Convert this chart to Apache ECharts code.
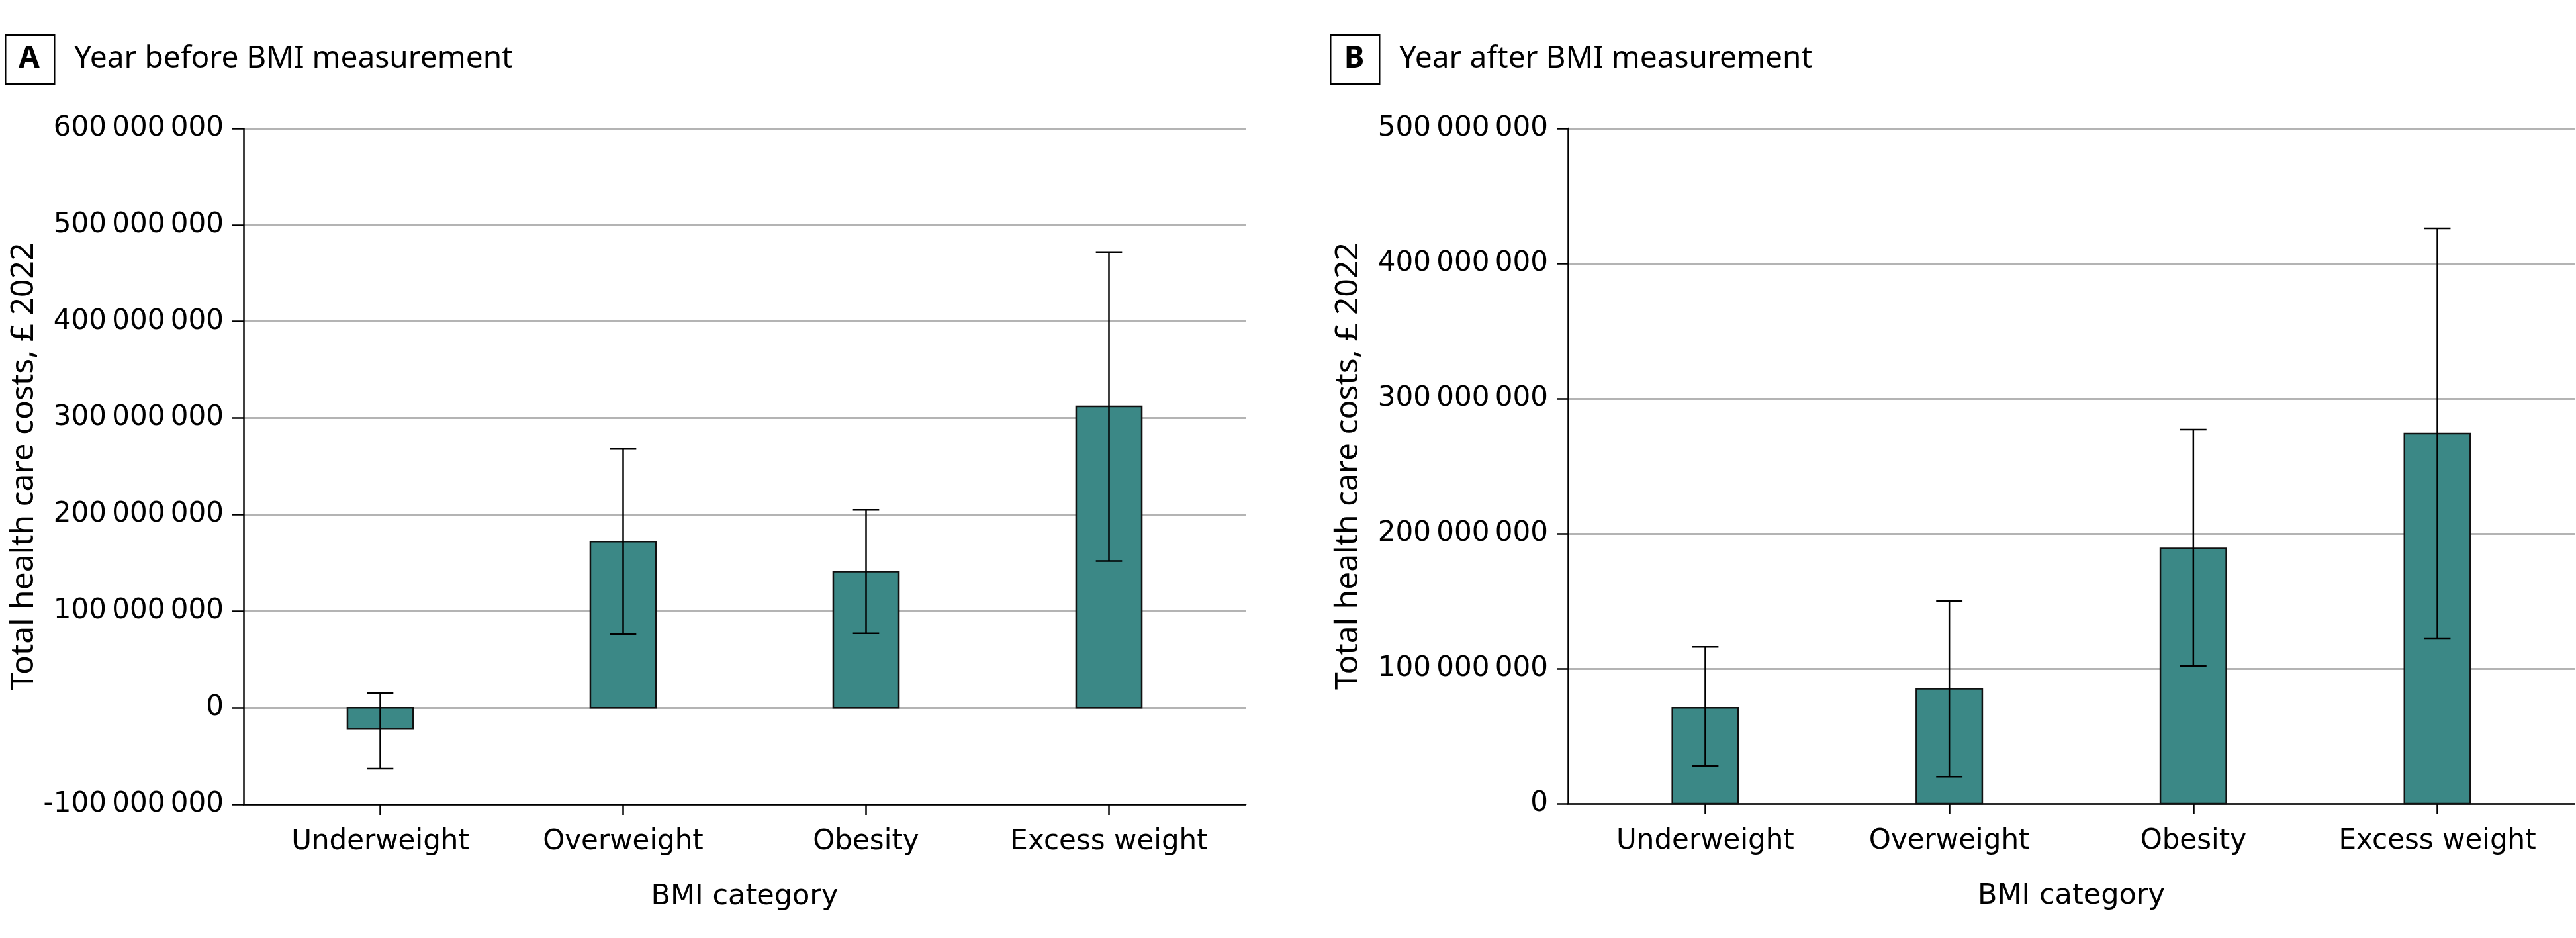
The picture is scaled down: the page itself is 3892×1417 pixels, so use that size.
<!DOCTYPE html>
<html lang="en">
<head>
    <meta charset="UTF-8">
    <title>Total health care costs by BMI category</title>
    <script src="https://cdn.jsdelivr.net/npm/echarts@6/dist/echarts.min.js"></script>
    <style>
        html, body { margin: 0; padding: 0; background: #fff; }
    </style>
</head>
<body>

<div id="main" style="width:3892px;height:1417px"></div>
<script type="text/javascript">

    // categories + values (GBP, 2022)
    var categories = ['Underweight', 'Overweight', 'Obesity', 'Excess weight'];

    var beforeCost = [-22000000, 172000000, 141000000, 312000000];
    var beforeLow  = [-63000000, 76000000, 77000000, 152000000];
    var beforeHigh = [15000000, 268000000, 205000000, 472000000];

    var afterCost = [71000000, 85000000, 189000000, 274000000];
    var afterLow  = [28000000, 20000000, 102000000, 122000000];
    var afterHigh = [116000000, 150000000, 277000000, 426000000];

    var yTicksA = [-100000000, 0, 100000000, 200000000, 300000000, 400000000, 500000000, 600000000];
    var yTicksB = [0, 100000000, 200000000, 300000000, 400000000, 500000000];

    var barColor = '#3b8886';
    var gridColor = '#b4b4b4';
    var tickFont = 'DejaVu Sans';
    var titleFont = 'Noto Sans';

    function fmt(v) {
        var neg = v < 0;
        var s = String(Math.abs(v));
        var out = '';
        while (s.length > 3) {
            out = '\u2009' + s.slice(-3) + out;
            s = s.slice(0, -3);
        }
        out = s + out;
        return (neg ? '-' : '') + out;
    }

    function rows(cost, low, high) {
        var r = [];
        for (var i = 0; i < cost.length; i++) {
            r.push([i, cost[i], low[i], high[i]]);
        }
        return r;
    }

    function renderBar(params, api) {
        var x = api.value(0);
        var top = api.coord([x, api.value(1)]);
        var base = api.coord([x, 0]);
        var w = api.size([0.27, 0])[0];
        var lo = api.coord([x, api.value(2)]);
        var hi = api.coord([x, api.value(3)]);
        var cap = api.size([0.108, 0])[0] / 2;
        var y0 = Math.min(top[1], base[1]);
        var h = Math.abs(top[1] - base[1]);
        var line = { stroke: '#000', lineWidth: 2.5 };
        return {
            type: 'group',
            children: [
                { type: 'rect', shape: { x: top[0] - w / 2, y: y0, width: w, height: h },
                  style: { fill: barColor, stroke: '#111', lineWidth: 2.5 } },
                { type: 'line', shape: { x1: top[0], y1: lo[1], x2: top[0], y2: hi[1] }, style: line },
                { type: 'line', shape: { x1: top[0] - cap, y1: hi[1], x2: top[0] + cap, y2: hi[1] }, style: line },
                { type: 'line', shape: { x1: top[0] - cap, y1: lo[1], x2: top[0] + cap, y2: lo[1] }, style: line }
            ]
        };
    }

    function xAxisFor(idx) {
        return {
            type: 'value',
            gridIndex: idx,
            min: -0.5627,
            max: 3.5627,
            name: 'BMI category',
            nameLocation: 'middle',
            nameGap: 118,
            nameTextStyle: { fontFamily: tickFont, fontSize: 43, color: '#000' },
            axisLine: { onZero: false, lineStyle: { color: '#000', width: 2.5 } },
            axisTick: { show: true, length: 16, customValues: [0, 1, 2, 3], lineStyle: { color: '#000', width: 2.5 } },
            axisLabel: {
                customValues: [0, 1, 2, 3],
                formatter: function (v) { return categories[Math.round(v)]; },
                fontFamily: tickFont, fontSize: 42, color: '#000', margin: 36
            },
            splitLine: { show: false }
        };
    }

    function yAxisFor(idx, ticks) {
        return {
            type: 'value',
            gridIndex: idx,
            min: ticks[0],
            max: ticks[ticks.length - 1],
            interval: 100000000,
            name: 'Total health care costs, \u00a3 2022',
            nameLocation: 'middle',
            nameRotate: 90,
            nameGap: 308,
            nameTextStyle: { fontFamily: titleFont, fontSize: 48, color: '#000' },
            axisLine: { show: true, onZero: false, lineStyle: { color: '#000', width: 2.5 } },
            axisTick: { show: true, length: 17, lineStyle: { color: '#000', width: 2.5 } },
            axisLabel: { formatter: fmt, fontFamily: tickFont, fontSize: 42, color: '#000', margin: 30 },
            splitLine: { show: true, lineStyle: { color: gridColor, width: 3 } }
        };
    }

    function panelHead(x, letter, text) {
        return [
            { type: 'rect', left: x, top: 52, shape: { width: 74, height: 74 },
              style: { fill: '#fff', stroke: '#000', lineWidth: 2.5 } },
            { type: 'text', x: x + 37, y: 89,
              style: { text: letter, fontFamily: titleFont, fontWeight: 'bold', fontSize: 46,
                       fill: '#000', align: 'center', verticalAlign: 'middle' } },
            { type: 'text', x: x + 105, y: 89,
              style: { text: text, fontFamily: titleFont, fontSize: 46,
                       fill: '#000', align: 'left', verticalAlign: 'middle' } }
        ];
    }

    window.onload = function () {
        var chartDom = document.getElementById('main');
        var myChart = echarts.init(chartDom);

        var option = {
            animation: false,
            backgroundColor: '#fff',
            grid: [
                { left: 368, top: 194, width: 1514, height: 1021 },
                { left: 2369, top: 194, width: 1521, height: 1020 }
            ],
            xAxis: [xAxisFor(0), xAxisFor(1)],
            yAxis: [yAxisFor(0, yTicksA), yAxisFor(1, yTicksB)],
            graphic: panelHead(7, 'A', 'Year before BMI measurement')
                .concat(panelHead(2009, 'B', 'Year after BMI measurement')),
            series: [
                {
                    type: 'custom',
                    xAxisIndex: 0,
                    yAxisIndex: 0,
                    renderItem: renderBar,
                    encode: { x: 0, y: [1, 2, 3] },
                    data: rows(beforeCost, beforeLow, beforeHigh),
                    z: 5
                },
                {
                    type: 'custom',
                    xAxisIndex: 1,
                    yAxisIndex: 1,
                    renderItem: renderBar,
                    encode: { x: 0, y: [1, 2, 3] },
                    data: rows(afterCost, afterLow, afterHigh),
                    z: 5
                }
            ]
        };

        myChart.setOption(option, true);
    }

</script>

</body>
</html>
